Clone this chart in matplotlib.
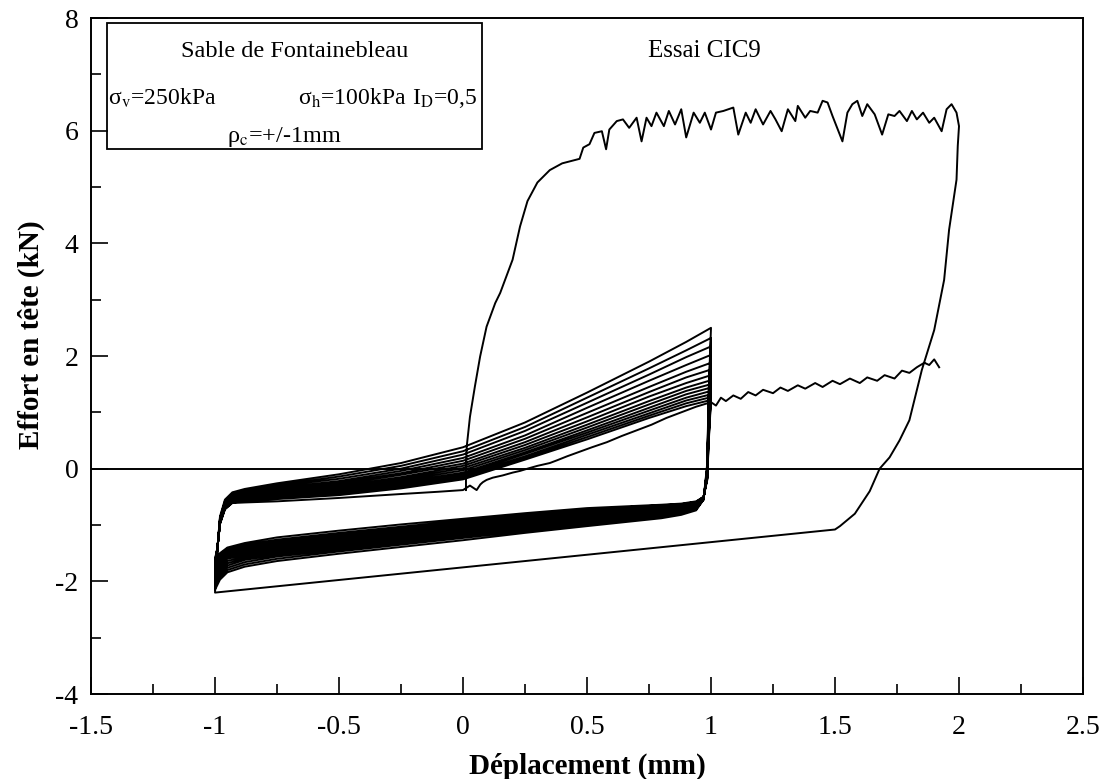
import matplotlib
matplotlib.use('Agg')
import matplotlib.pyplot as plt
from matplotlib.ticker import MultipleLocator

plt.rcParams['font.family'] = ['Liberation Serif', 'DejaVu Serif']
plt.rcParams['mathtext.fontset'] = 'stix'

# ---------------- data ----------------
# first monotonic loading
mono_x = [0.012, 0.012, 0.015, 0.028, 0.048, 0.069, 0.095, 0.13, 0.15, 0.20, 0.23, 0.26, 0.30, 0.35, 0.40, 0.47]
mono_y = [-0.38, 0.0, 0.39, 0.92, 1.46, 1.99, 2.52, 2.94, 3.12, 3.71, 4.30, 4.75, 5.08, 5.30, 5.42, 5.50]

# noisy plateau
plateau_x = [0.485, 0.51, 0.53, 0.56, 0.577, 0.59, 0.62, 0.645, 0.67, 0.70, 0.72, 0.74, 0.76, 0.78,
             0.81, 0.83, 0.855, 0.88, 0.90, 0.93, 0.955, 0.975, 1.00, 1.02, 1.05, 1.09, 1.11, 1.14,
             1.16, 1.18, 1.21, 1.24, 1.26, 1.285, 1.31, 1.34, 1.35, 1.38, 1.40, 1.43, 1.45, 1.47,
             1.49, 1.53, 1.55, 1.57, 1.59, 1.61, 1.63, 1.66, 1.69, 1.715, 1.74, 1.76, 1.79, 1.81,
             1.83, 1.855, 1.88, 1.90, 1.93, 1.95, 1.97, 1.99, 2.00]
plateau_y = [5.70, 5.76, 5.96, 5.99, 5.67, 6.02, 6.17, 6.20, 6.05, 6.23, 5.81, 6.23, 6.08, 6.32,
             6.08, 6.35, 6.11, 6.38, 5.88, 6.32, 6.14, 6.32, 6.02, 6.32, 6.35, 6.41, 5.93, 6.32,
             6.14, 6.38, 6.11, 6.35, 6.20, 5.99, 6.38, 6.17, 6.44, 6.23, 6.35, 6.32, 6.53, 6.50,
             6.26, 5.81, 6.32, 6.47, 6.53, 6.26, 6.47, 6.29, 5.93, 6.29, 6.26, 6.35, 6.17, 6.35,
             6.20, 6.32, 6.14, 6.23, 5.99, 6.38, 6.47, 6.32, 6.08]

# first unloading from +2 mm to -1 mm
unload_x = [1.995, 1.99, 1.96, 1.94, 1.90, 1.85, 1.82, 1.80, 1.76, 1.72, 1.68, 1.64, 1.58, 1.52, 1.50, -1.00]
unload_y = [5.73, 5.13, 4.24, 3.35, 2.46, 1.75, 1.22, 0.86, 0.50, 0.20, 0.00, -0.40, -0.80, -1.02, -1.08, -2.20]

# cyclic loops (+/-1 mm): loading branch stations and values
loop_up_x = [-0.99, -0.98, -0.96, -0.93, -0.88, -0.75, -0.5, -0.25, 0.0, 0.25, 0.5, 0.75, 0.9, 1.0]
loop_up_y = [
    [-1.4, -0.85, -0.55, -0.42, -0.36, -0.26, -0.10, 0.10, 0.38, 0.82, 1.35, 1.90, 2.25, 2.50],
    [-1.4, -0.88, -0.58, -0.45, -0.39, -0.29, -0.14, 0.05, 0.31, 0.74, 1.26, 1.78, 2.10, 2.32],
    [-1.4, -0.90, -0.60, -0.47, -0.41, -0.31, -0.18, 0.00, 0.25, 0.67, 1.17, 1.67, 1.98, 2.17],
    [-1.4, -0.92, -0.62, -0.49, -0.43, -0.34, -0.22, -0.04, 0.19, 0.59, 1.08, 1.56, 1.84, 2.02],
    [-1.4, -0.93, -0.63, -0.51, -0.45, -0.36, -0.25, -0.08, 0.14, 0.53, 0.99, 1.45, 1.72, 1.88],
    [-1.4, -0.94, -0.64, -0.52, -0.47, -0.38, -0.28, -0.11, 0.09, 0.47, 0.91, 1.36, 1.62, 1.76],
    [-1.4, -0.95, -0.65, -0.53, -0.48, -0.40, -0.31, -0.15, 0.05, 0.42, 0.84, 1.28, 1.52, 1.66],
    [-1.4, -0.95, -0.66, -0.54, -0.50, -0.42, -0.33, -0.18, 0.01, 0.37, 0.78, 1.20, 1.44, 1.57],
    [-1.4, -0.96, -0.67, -0.55, -0.51, -0.44, -0.36, -0.21, -0.03, 0.33, 0.73, 1.14, 1.38, 1.50],
    [-1.4, -0.96, -0.68, -0.56, -0.53, -0.46, -0.38, -0.24, -0.07, 0.29, 0.68, 1.08, 1.32, 1.44],
    [-1.4, -0.97, -0.69, -0.57, -0.54, -0.48, -0.41, -0.27, -0.10, 0.26, 0.64, 1.03, 1.26, 1.38],
    [-1.4, -0.97, -0.70, -0.58, -0.55, -0.50, -0.43, -0.30, -0.13, 0.22, 0.60, 0.98, 1.21, 1.32],
    [-1.4, -0.98, -0.71, -0.59, -0.56, -0.52, -0.45, -0.32, -0.16, 0.19, 0.56, 0.94, 1.16, 1.27],
    [-1.4, -0.98, -0.72, -0.60, -0.58, -0.54, -0.47, -0.35, -0.19, 0.16, 0.52, 0.90, 1.11, 1.22],
]
# unloading branch stations and values
loop_dn_x = [0.99, 0.985, 0.97, 0.94, 0.88, 0.80, 0.5, 0.25, 0.0, -0.25, -0.5, -0.75, -0.88, -0.95, -0.98, -1.0]
loop_dn_y = [
    [1.30, 0.10, -0.55, -0.74, -0.82, -0.88, -1.02, -1.14, -1.27, -1.39, -1.51, -1.64, -1.74, -1.84, -1.97, -2.15],
    [1.20, 0.05, -0.55, -0.72, -0.80, -0.85, -0.99, -1.11, -1.23, -1.35, -1.47, -1.60, -1.70, -1.80, -1.92, -2.10],
    [1.10, 0.00, -0.55, -0.71, -0.78, -0.83, -0.96, -1.08, -1.20, -1.32, -1.44, -1.56, -1.66, -1.76, -1.88, -2.05],
    [1.00, 0.00, -0.54, -0.70, -0.76, -0.80, -0.93, -1.05, -1.17, -1.29, -1.41, -1.53, -1.62, -1.72, -1.84, -2.00],
    [0.95, -0.05, -0.54, -0.68, -0.74, -0.78, -0.90, -1.02, -1.14, -1.26, -1.38, -1.50, -1.59, -1.68, -1.80, -1.95],
    [0.90, -0.05, -0.53, -0.67, -0.72, -0.76, -0.88, -0.99, -1.11, -1.23, -1.35, -1.47, -1.56, -1.64, -1.76, -1.90],
    [0.85, -0.10, -0.53, -0.66, -0.70, -0.74, -0.85, -0.96, -1.08, -1.20, -1.32, -1.44, -1.53, -1.60, -1.72, -1.86],
    [0.80, -0.10, -0.52, -0.65, -0.69, -0.72, -0.83, -0.94, -1.05, -1.17, -1.29, -1.41, -1.50, -1.57, -1.68, -1.82],
    [0.75, -0.12, -0.52, -0.63, -0.67, -0.70, -0.80, -0.91, -1.02, -1.14, -1.26, -1.38, -1.47, -1.54, -1.65, -1.78],
    [0.70, -0.14, -0.51, -0.62, -0.66, -0.69, -0.78, -0.89, -1.00, -1.11, -1.23, -1.35, -1.44, -1.51, -1.61, -1.74],
    [0.60, -0.15, -0.51, -0.61, -0.65, -0.67, -0.76, -0.86, -0.97, -1.08, -1.20, -1.32, -1.41, -1.48, -1.58, -1.70],
    [0.50, -0.17, -0.50, -0.60, -0.64, -0.66, -0.74, -0.84, -0.95, -1.06, -1.17, -1.29, -1.38, -1.45, -1.55, -1.67],
    [0.45, -0.18, -0.50, -0.59, -0.63, -0.65, -0.72, -0.82, -0.92, -1.03, -1.14, -1.26, -1.35, -1.42, -1.52, -1.63],
    [0.40, -0.20, -0.50, -0.58, -0.62, -0.64, -0.70, -0.79, -0.89, -0.99, -1.10, -1.22, -1.32, -1.40, -1.50, -1.60],
]

# last reloading (noisy) from -1 mm to 1.9 mm
final_x = [-0.99, -0.98, -0.96, -0.93, -0.88, -0.75, -0.5, -0.25, -0.1, 0.0, 0.028, 0.055, 0.07, 0.08,
           0.095, 0.12, 0.16, 0.2, 0.23, 0.26, 0.3, 0.35, 0.38, 0.42, 0.47, 0.52, 0.58, 0.64, 0.70,
           0.76, 0.82, 0.88, 0.94, 1.00, 1.02, 1.04, 1.06, 1.09, 1.12, 1.15, 1.18, 1.21, 1.25, 1.28,
           1.31, 1.35, 1.38, 1.42, 1.45, 1.49, 1.52, 1.56, 1.60, 1.63, 1.67, 1.70, 1.74, 1.77, 1.80,
           1.83, 1.86, 1.88, 1.90, 1.92]
final_y = [-1.40, -0.98, -0.72, -0.61, -0.60, -0.58, -0.52, -0.45, -0.41, -0.38, -0.30, -0.38, -0.28,
           -0.24, -0.20, -0.16, -0.12, -0.07, -0.04, 0.00, 0.05, 0.10, 0.15, 0.22, 0.30, 0.38, 0.47,
           0.58, 0.68, 0.78, 0.90, 1.00, 1.10, 1.18, 1.12, 1.26, 1.20, 1.30, 1.24, 1.36, 1.30, 1.40,
           1.34, 1.44, 1.38, 1.48, 1.42, 1.52, 1.45, 1.56, 1.50, 1.60, 1.52, 1.62, 1.56, 1.66, 1.60,
           1.74, 1.70, 1.80, 1.88, 1.84, 1.94, 1.80]

x_ticks = [-1.5, -1, -0.5, 0, 0.5, 1, 1.5, 2, 2.5]
x_tick_labels = ['-1.5', '-1', '-0.5', '0', '0.5', '1', '1.5', '2', '2.5']
y_ticks = [-4, -2, 0, 2, 4, 6, 8]
y_tick_labels = ['-4', '-2', '0', '2', '4', '6', '8']

# ---------------- figure ----------------
fig = plt.figure(figsize=(11.08, 7.79), dpi=100)
ax = fig.add_axes([91 / 1108, 1 - 694 / 779, 992 / 1108, 676 / 779])
ax.set_xlim(-1.5, 2.5)
ax.set_ylim(-4, 8)

lc = 'black'
lw = 1.4

# build the full path in order
path_x = list(mono_x) + list(plateau_x) + list(unload_x)
path_y = list(mono_y) + list(plateau_y) + list(unload_y)
for uy, dy in zip(loop_up_y, loop_dn_y):
    path_x += loop_up_x + loop_dn_x
    path_y += uy + dy
path_x += final_x
path_y += final_y
ax.plot(path_x, path_y, color=lc, lw=lw, solid_joinstyle='round')

ax.axhline(0, color='black', lw=1.4)

# ticks
ax.set_xticks(x_ticks)
ax.set_xticklabels(x_tick_labels)
ax.set_yticks(y_ticks)
ax.set_yticklabels(y_tick_labels)
ax.xaxis.set_minor_locator(MultipleLocator(0.25))
ax.yaxis.set_minor_locator(MultipleLocator(1))
ax.tick_params(which='both', direction='in', top=False, right=False, labelsize=20, width=1.2)
ax.tick_params(which='major', length=12)
ax.tick_params(which='minor', length=7)
ax.tick_params(axis='x', which='major', pad=15)
ax.tick_params(axis='y', which='major', pad=9)
for s in ax.spines.values():
    s.set_linewidth(1.4)

ax.set_xlabel('Déplacement (mm)', fontsize=21, fontweight='bold', labelpad=9)
ax.set_ylabel('Effort en tête (kN)', fontsize=21, fontweight='bold')
ax.yaxis.set_label_coords(-0.046, 0.532)

# info box
box = plt.Rectangle((-1.435, 5.67), 1.512, 2.24, fill=False, lw=1.3, color='black')
ax.add_patch(box)
ax.text(-0.68, 7.41, 'Sable de Fontainebleau', fontsize=17.5, ha='center', va='center')
ax.text(-1.43, 6.57, 'σ$_{\\mathrm{v}}$=250kPa', fontsize=17, ha='left', va='center')
ax.text(-0.665, 6.57, 'σ$_{\\mathrm{h}}$=100kPa', fontsize=17, ha='left', va='center')
ax.text(-0.205, 6.57, 'I$_{\\mathrm{D}}$=0,5', fontsize=17, ha='left', va='center')
ax.text(-0.72, 5.88, 'ρ$_{\\mathrm{c}}$=+/-1mm', fontsize=17.5, ha='center', va='center')

ax.text(0.975, 7.41, 'Essai CIC9', fontsize=18, ha='center', va='center')

fig.savefig('out.png', dpi=100)
